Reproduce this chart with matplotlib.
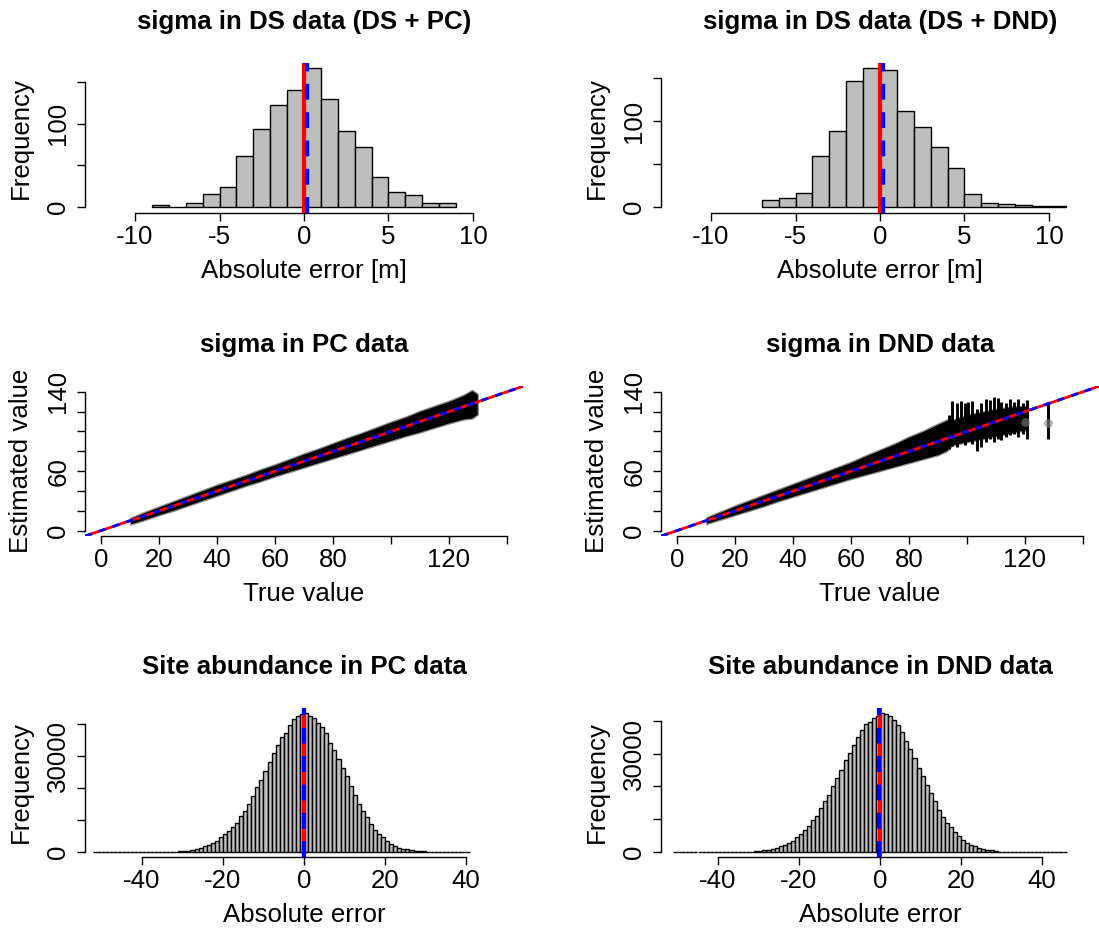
import numpy as np
import matplotlib
matplotlib.use("Agg")
import matplotlib.pyplot as plt

plt.rcParams['font.family'] = ['Liberation Sans', 'DejaVu Sans']

# ---- data ----
# sigma in DS data: histograms of absolute error, bins of width 1
ds_pc_start = -9
ds_pc_counts = [2, 0, 5, 16, 24, 61, 94, 122, 140, 166, 130, 91, 72, 36, 18, 15, 5, 5]
ds_pc_truth, ds_pc_mean = 0.0, 0.2

ds_dnd_start = -7
ds_dnd_counts = [8, 11, 17, 59, 88, 146, 161, 159, 112, 93, 70, 46, 15, 5, 4, 3, 1.5, 1.5]
ds_dnd_truth, ds_dnd_mean = 0.0, 0.2

# sigma in PC data: envelope of the estimate +- CI versus true value
pc_true = [10, 15, 20, 25, 30, 35, 40, 45, 50, 55, 60, 65, 70, 75, 80, 85, 90,
           95, 100, 105, 110, 115, 120, 125, 128, 130]
pc_low = [6, 10.5, 15.5, 20, 25, 30, 35, 40, 45, 49.5, 54.5, 59, 63.5, 68, 72.5,
          77, 81.5, 86, 90.5, 95, 99, 103.5, 108, 112, 113, 117]
pc_high = [13, 19, 24.5, 30, 35.5, 41, 46.5, 51.5, 56.5, 62, 67, 72.5, 78, 83,
           88.5, 94, 99, 104.5, 110, 115, 121, 126, 131, 137, 142, 138]

# sigma in DND data
dnd_true = [10, 15, 20, 25, 30, 35, 40, 45, 50, 55, 60, 65, 70, 75, 80, 85, 90,
            93, 95, 100, 105, 110, 115, 120, 121]
dnd_low = [6.5, 11, 15.5, 20, 24.5, 29.5, 34, 38.5, 43, 47.5, 52, 56, 60, 64, 68,
           72, 76, 80, 86, 89, 92, 95, 98, 101, 101]
dnd_high = [13.5, 19.5, 25.5, 31, 36.5, 42, 47.5, 53, 58.5, 64, 69.5, 76, 82, 88,
            95, 101, 108, 112, 112, 117, 120, 123, 125, 126, 126]
dnd_spike_x = [93.8, 95.0, 96.5, 97.8, 99.2, 100.4, 101.9, 103.6, 104.8, 106.5,
               108.0, 109.4, 110.8, 111.9, 113.4, 114.9, 116.3, 117.7, 119.2,
               120.7, 127.9]
dnd_spike_lo = [82.4, 85.8, 84, 89, 86, 91, 87.6, 80.7, 84, 89, 92.7, 89, 92.7,
                91, 94.3, 96, 97.8, 94.3, 97.8, 92.7, 92]
dnd_spike_hi = [116.5, 131, 128.4, 131, 128.4, 130, 131, 123, 128.4, 132.5, 132,
                135, 133.5, 130, 128.4, 132.5, 130, 132.5, 128.4, 132, 129.5]
dnd_pt_x = [120.0, 127.9]
dnd_pt_y = [110, 109]

# site abundance: histograms of absolute error, bins of width 1
pc_ab_zero_range = (-52, 41)
pc_ab_start = -32
pc_ab_counts = [50, 150, 220, 310, 620, 830, 1250, 1650, 2200, 2800, 3400, 4450,
                5400, 6400, 7750, 9000, 11200, 12800, 14900, 17400, 20100, 22300,
                25200, 27900, 30900, 33400, 35900, 37100, 39700, 41400, 42400,
                42900, 43300, 42400, 41800, 40300, 38800, 37200, 33800, 31700,
                28900, 26100, 23500, 20600, 17800, 15000, 12800, 10900, 8700,
                6900, 5400, 4550, 3300, 2500, 1750, 1150, 830, 720, 400, 300,
                200, 80]
pc_ab_truth, pc_ab_mean = 0.0, 0.05

dnd_ab_zero_range = (-51, 46)
dnd_ab_start = -31
dnd_ab_counts = [250, 350, 400, 600, 800, 1200, 1700, 2100, 2700, 3200, 4600,
                 5500, 6800, 8000, 9600, 10800, 13400, 15400, 17400, 20000, 22500,
                 25000, 27900, 30100, 32600, 35200, 37200, 39200, 39700, 40800,
                 41500, 42400, 42000, 41400, 40200, 38700, 36700, 33900, 31300,
                 28600, 25700, 23200, 20500, 17900, 15400, 12900, 10600, 8800,
                 7500, 6100, 4800, 3700, 2700, 2100, 1700, 1100, 800, 600, 400,
                 300]
dnd_ab_truth, dnd_ab_mean = 0.1, -0.35

# ---- layout (pixels) ----
W, H = 1099, 934
fig = plt.figure(figsize=(W / 100, H / 100), dpi=100)
FS = 18.6
col_left = [85, 661]
col_w = 438
row_top = [62.9, 386.3, 707.5]
row_h = 149.8


def add_ax(c, r):
    l, t = col_left[c], row_top[r]
    return fig.add_axes([l / W, 1 - (t + row_h) / H, col_w / W, row_h / H])


def decorate(ax, c, r, title, xlabel, ylabel, xt, xl, yt, yl):
    for s in ['top', 'right']:
        ax.spines[s].set_visible(False)
    ax.spines['left'].set_bounds(yt[0], yt[-1])
    ax.spines['bottom'].set_bounds(xt[0], xt[-1])
    ax.spines['left'].set_linewidth(1.0)
    ax.spines['bottom'].set_linewidth(1.0)
    ax.set_xticks(xt)
    ax.set_xticklabels(xl)
    ax.set_yticks(yt)
    ax.set_yticklabels(yl, rotation=90, va='center')
    ax.tick_params(direction='out', length=5.5, width=1.0, labelsize=FS)
    ax.tick_params(axis='x', pad=3)
    ax.tick_params(axis='y', pad=5)
    l, t = col_left[c], row_top[r]
    cx = l + col_w / 2
    fig.text(cx / W, 1 - (t - 41) / H, title, ha='center', va='center',
             fontsize=FS, fontweight='bold')
    fig.text(cx / W, 1 - (t + row_h + 58) / H, xlabel, ha='center',
             va='center', fontsize=FS)
    fig.text((l - 64) / W, 1 - (t + row_h / 2) / H, ylabel, ha='center',
             va='center', rotation=90, fontsize=FS)


def hist(ax, start, counts, zero_range=None, lw=1.0):
    counts = list(counts)
    if zero_range is not None:
        lo, hi = zero_range
        n_left = start - lo
        n_right = hi - (start + len(counts))
        counts = [0] * n_left + counts + [0] * n_right
        start = lo
    edges = np.arange(start, start + len(counts))
    ax.bar(edges, counts, width=1, align='edge', color='#BEBEBE',
           edgecolor='black', linewidth=lw, zorder=2)
    m = max(counts)
    ax.set_ylim(-0.04 * m, 1.04 * m)


def vlines(ax, truth, mean, lw=3.0):
    ax.axvline(truth, color='red', lw=lw, zorder=3)
    ax.axvline(mean, color='blue', lw=lw, ls=(0, (3.8, 3.0)), zorder=4)


# row 1
ax = add_ax(0, 0)
hist(ax, ds_pc_start, ds_pc_counts)
vlines(ax, ds_pc_truth, ds_pc_mean)
ax.set_xlim(-12.96, 12.96)
decorate(ax, 0, 0, 'sigma in DS data (DS + PC)', 'Absolute error [m]', 'Frequency',
         [-10, -5, 0, 5, 10], ['-10', '-5', '0', '5', '10'],
         [0, 50, 100, 150], ['0', '', '100', ''])

ax = add_ax(1, 0)
hist(ax, ds_dnd_start, ds_dnd_counts)
vlines(ax, ds_dnd_truth, ds_dnd_mean)
ax.set_xlim(-12.96, 12.96)
decorate(ax, 1, 0, 'sigma in DS data (DS + DND)', 'Absolute error [m]', 'Frequency',
         [-10, -5, 0, 5, 10], ['-10', '-5', '0', '5', '10'],
         [0, 50, 100, 150], ['0', '', '100', ''])

# row 2
sc_ticks = [0, 20, 40, 60, 80, 100, 120, 140]
sc_xlab = ['0', '20', '40', '60', '80', '', '120', '']
sc_ylab = ['0', '', '', '60', '', '', '', '140']

ax = add_ax(0, 1)
ax.fill_between(pc_true, pc_low, pc_high, color='black', edgecolor='#8c8c8c',
                linewidth=0.9, zorder=2)
ax.axline((0, 0), slope=1, color='red', lw=2.0, zorder=3)
ax.axline((0, 0), slope=1, color='blue', lw=2.0, ls=(0, (2.6, 2.6)), zorder=4)
ax.set_xlim(-5.6, 145.6)
ax.set_ylim(-5.6, 145.6)
decorate(ax, 0, 1, 'sigma in PC data', 'True value', 'Estimated value',
         sc_ticks, sc_xlab, sc_ticks, sc_ylab)

ax = add_ax(1, 1)
ax.fill_between(dnd_true, dnd_low, dnd_high, color='black', edgecolor='#8c8c8c',
                linewidth=0.9, zorder=2)
ax.vlines(dnd_spike_x, dnd_spike_lo, dnd_spike_hi, color='black', lw=2.1, zorder=2)
ax.scatter(dnd_pt_x, dnd_pt_y, s=40, color='#808080', alpha=0.6, lw=0, zorder=2)
ax.axline((0, 0), slope=1, color='red', lw=2.0, zorder=3)
ax.axline((0, 0), slope=1, color='blue', lw=2.0, ls=(0, (2.6, 2.6)), zorder=4)
ax.set_xlim(-5.6, 145.6)
ax.set_ylim(-5.6, 145.6)
decorate(ax, 1, 1, 'sigma in DND data', 'True value', 'Estimated value',
         sc_ticks, sc_xlab, sc_ticks, sc_ylab)

# row 3
ab_ticks = [-40, -20, 0, 20, 40]
ab_lab = ['-40', '-20', '0', '20', '40']
ab_yt = [0, 10000, 20000, 30000, 40000]
ab_yl = ['0', '', '', '30000', '']

ax = add_ax(0, 2)
hist(ax, pc_ab_start, pc_ab_counts, pc_ab_zero_range, lw=1.0)
vlines(ax, pc_ab_truth, pc_ab_mean)
ax.set_xlim(-54, 54)
decorate(ax, 0, 2, 'Site abundance in PC data', 'Absolute error', 'Frequency',
         ab_ticks, ab_lab, ab_yt, ab_yl)

ax = add_ax(1, 2)
hist(ax, dnd_ab_start, dnd_ab_counts, dnd_ab_zero_range, lw=1.0)
vlines(ax, dnd_ab_truth, dnd_ab_mean)
ax.set_xlim(-54, 54)
decorate(ax, 1, 2, 'Site abundance in DND data', 'Absolute error', 'Frequency',
         ab_ticks, ab_lab, ab_yt, ab_yl)

fig.savefig('out.png', dpi=100)
